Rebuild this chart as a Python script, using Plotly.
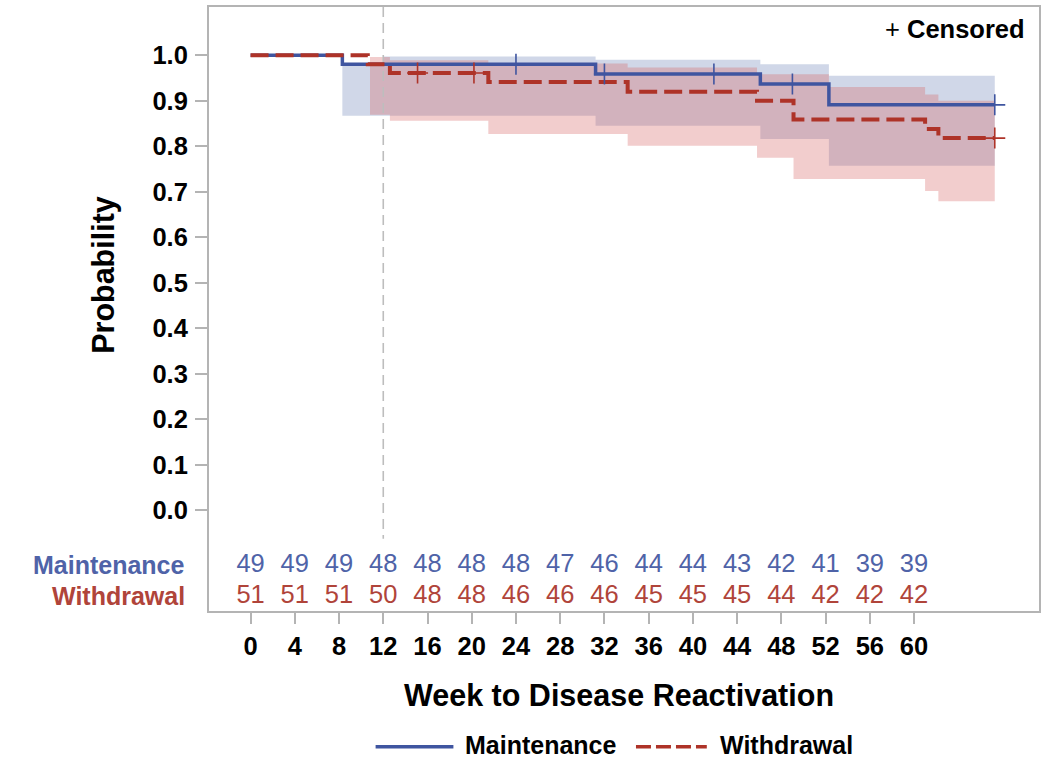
import plotly.graph_objects as go

# ---------------- data ----------------
tick_weeks = list(range(0, 61, 4))
maint_at_risk = [49, 49, 49, 48, 48, 48, 48, 47, 46, 44, 44, 43, 42, 41, 39, 39]
withd_at_risk = [51, 51, 51, 50, 48, 48, 46, 46, 46, 45, 45, 45, 44, 42, 42, 42]

maint_t = [0, 8.3, 31.2, 46.1, 52.3, 67.3]
maint_s = [1.0, 0.980, 0.959, 0.937, 0.891, 0.891]
withd_t = [0, 10.6, 12.6, 21.5, 34.1, 45.8, 49.1, 61.0, 62.2, 67.3]
withd_s = [1.0, 0.980, 0.961, 0.941, 0.920, 0.900, 0.859, 0.838, 0.818, 0.818]

maint_ci_t = [8.3, 12.0, 31.2, 46.1, 52.3, 67.3]
maint_ci_hi = [0.980, 0.997, 0.990, 0.980, 0.955, 0.955]
maint_ci_lo = [0.867, 0.867, 0.845, 0.816, 0.757, 0.757]

withd_ci_t = [10.8, 12.6, 21.5, 34.1, 45.8, 49.1, 52.3, 61.0, 62.2, 67.3]
withd_ci_hi = [0.996, 0.989, 0.982, 0.973, 0.958, 0.958, 0.930, 0.914, 0.900, 0.900]
withd_ci_lo = [0.869, 0.856, 0.827, 0.801, 0.775, 0.728, 0.728, 0.702, 0.679, 0.679]

maint_cens_t = [24.0, 32.0, 41.9, 49.0, 67.3]
maint_cens_s = [0.980, 0.959, 0.959, 0.937, 0.891]
withd_cens_t = [15.1, 20.2, 67.3]
withd_cens_s = [0.961, 0.961, 0.818]

ref_week = 12
y_ticks = [i / 10 for i in range(11)]
y_tick_text = [f"{v:.1f}" for v in y_ticks]

# ---------------- styling ----------------
FONT = "Liberation Sans, Arial, sans-serif"
BLUE = "#3F55A0"
RED = "#AE3328"
BLUE_TXT = "#4F63A8"
RED_TXT = "#B0443A"
FRAME = "#B4B4B4"

W, H = 1046, 759
L, R, T, B = 209, 5, 6, 148
PW, PH = W - L - R, H - T - B


def px(x):
    return (x - L) / PW


def py(y):
    return (H - B - y) / PH


YMIN, YMAX = -0.221, 1.106
XMIN, XMAX = -3.76, 71.3

fig = go.Figure()

# confidence bands
fig.add_trace(go.Scatter(x=maint_ci_t, y=maint_ci_hi, mode="lines", line=dict(width=0, shape="hv"),
                         hoverinfo="skip", showlegend=False))
fig.add_trace(go.Scatter(x=maint_ci_t, y=maint_ci_lo, mode="lines", line=dict(width=0, shape="hv"),
                         fill="tonexty", fillcolor="rgba(69,95,165,0.25)", hoverinfo="skip", showlegend=False))
fig.add_trace(go.Scatter(x=withd_ci_t, y=withd_ci_hi, mode="lines", line=dict(width=0, shape="hv"),
                         hoverinfo="skip", showlegend=False))
fig.add_trace(go.Scatter(x=withd_ci_t, y=withd_ci_lo, mode="lines", line=dict(width=0, shape="hv"),
                         fill="tonexty", fillcolor="rgba(215,103,103,0.33)", hoverinfo="skip", showlegend=False))

# reference line at week 12
fig.add_trace(go.Scatter(x=[ref_week, ref_week], y=[YMAX, -0.062], mode="lines",
                         line=dict(color="#BDBDBD", width=1.6, dash="10px,6px"), showlegend=False))

# KM curves
fig.add_trace(go.Scatter(x=maint_t, y=maint_s, mode="lines", name="Maintenance",
                         line=dict(color=BLUE, width=3.5, shape="hv"), showlegend=False))
fig.add_trace(go.Scatter(x=withd_t, y=withd_s, mode="lines", name="Withdrawal",
                         line=dict(color=RED, width=4, shape="hv", dash="18px,7px"), showlegend=False))

# censored marks
fig.add_trace(go.Scatter(x=maint_cens_t, y=maint_cens_s, mode="markers", showlegend=False,
                         marker=dict(symbol="cross-thin", size=15, line=dict(color=BLUE, width=1.6))))
fig.add_trace(go.Scatter(x=withd_cens_t, y=withd_cens_s, mode="markers", showlegend=False,
                         marker=dict(symbol="cross-thin", size=15, line=dict(color=RED, width=1.6))))

# numbers at risk
fig.add_trace(go.Scatter(x=tick_weeks, y=[-0.121] * len(tick_weeks), mode="text",
                         text=[str(v) for v in maint_at_risk], showlegend=False, hoverinfo="skip",
                         textfont=dict(family=FONT, size=25.5, color=BLUE_TXT)))
fig.add_trace(go.Scatter(x=tick_weeks, y=[-0.189] * len(tick_weeks), mode="text",
                         text=[str(v) for v in withd_at_risk], showlegend=False, hoverinfo="skip",
                         textfont=dict(family=FONT, size=25.5, color=RED_TXT)))

annotations = [
    dict(text="Maintenance", x=px(187), y=-0.121, xref="paper", yref="y", xanchor="right", yanchor="middle",
         showarrow=False, font=dict(family=FONT, size=25, color=BLUE_TXT, weight="bold")),
    dict(text="Withdrawal", x=px(187), y=-0.189, xref="paper", yref="y", xanchor="right", yanchor="middle",
         showarrow=False, font=dict(family=FONT, size=25, color=RED_TXT, weight="bold")),
    dict(text="Probability", x=px(103), y=py(274), xref="paper", yref="paper", textangle=-90,
         xanchor="center", yanchor="middle", showarrow=False,
         font=dict(family=FONT, size=30.5, color="black", weight="bold")),
    dict(text="Week to Disease Reactivation", x=px(620), y=py(695), xref="paper", yref="paper",
         xanchor="center", yanchor="middle", showarrow=False,
         font=dict(family=FONT, size=30.5, color="black", weight="bold")),
    dict(text="+ <b>Censored</b>", x=px(1029), y=py(28), xref="paper", yref="paper",
         xanchor="right", yanchor="middle", showarrow=False,
         font=dict(family=FONT, size=25.5, color="black")),
    dict(text="Maintenance", x=px(464), y=py(745), xref="paper", yref="paper",
         xanchor="left", yanchor="middle", showarrow=False,
         font=dict(family=FONT, size=25, color="black", weight="bold")),
    dict(text="Withdrawal", x=px(719), y=py(745), xref="paper", yref="paper",
         xanchor="left", yanchor="middle", showarrow=False,
         font=dict(family=FONT, size=25, color="black", weight="bold")),
]

shapes = [
    dict(type="line", xref="paper", yref="paper", x0=px(376), x1=px(454), y0=py(747), y1=py(747),
         line=dict(color=BLUE, width=3.5)),
    dict(type="line", xref="paper", yref="paper", x0=px(637), x1=px(708), y0=py(747), y1=py(747),
         line=dict(color=RED, width=3.5, dash="15px,5px")),
]

fig.update_layout(
    width=W, height=H,
    margin=dict(l=L, r=R, t=T, b=B, pad=0),
    paper_bgcolor="white", plot_bgcolor="white",
    font=dict(family=FONT, size=24, color="black"),
    showlegend=False,
    annotations=annotations,
    shapes=shapes,
    xaxis=dict(range=[XMIN, XMAX], tickvals=tick_weeks, ticks="outside", ticklen=11, tickwidth=1.5,
               tickcolor=FRAME, showgrid=False, zeroline=False, showline=True, linecolor=FRAME,
               linewidth=2, mirror=True, tickfont=dict(family=FONT, size=25.5, color="black", weight="bold"),
               ticklabelstandoff=0),
    yaxis=dict(range=[YMIN, YMAX], tickvals=y_ticks, ticktext=y_tick_text, ticks="outside", ticklen=12,
               tickwidth=1.5, tickcolor=FRAME, showgrid=False, zeroline=False, showline=True,
               linecolor=FRAME, linewidth=2, mirror=True,
               tickfont=dict(family=FONT, size=25.5, color="black", weight="bold"), ticklabelstandoff=2),
)

fig.write_html("out.html", post_script="document.body.style.margin='0';",
               config={"displayModeBar": False})
